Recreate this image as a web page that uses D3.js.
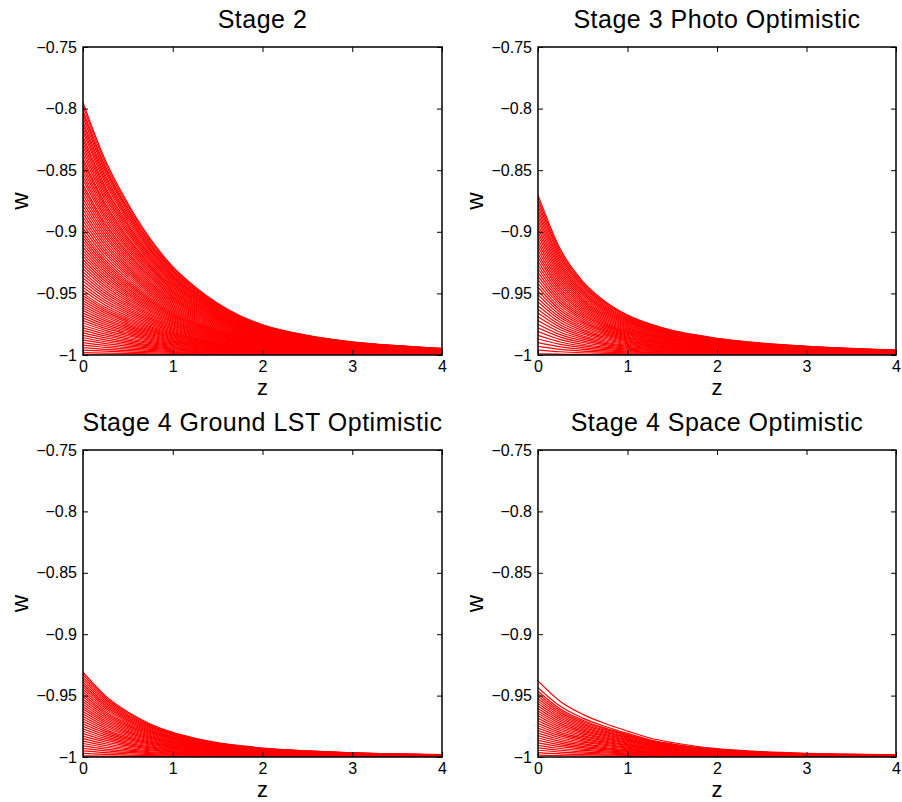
<!DOCTYPE html>
<html>
<head>
<meta charset="utf-8">
<script src="https://cdn.jsdelivr.net/npm/d3@7"></script>
<style>
body{margin:0;background:#fff}
text{font-family:"Liberation Sans",Arial,Helvetica,sans-serif}
</style>
</head>
<body>
<div id="chart"></div>
<script>
var titles=["Stage 2","Stage 3 Photo Optimistic","Stage 4 Ground LST Optimistic","Stage 4 Space Optimistic"];
var zGrid=[0,0.25,0.5,0.75,1,1.25,1.5,1.75,2,2.5,3,3.5,4];
var xTicks=[0,1,2,3,4];
var yTicks=[-1,-0.95,-0.9,-0.85,-0.8,-0.75];

var envStage2=[-0.795,-0.8422,-0.877,-0.9057,-0.9283,-0.9447,-0.958,-0.9682,-0.9754,-0.984,-0.9893,-0.9924,-0.9947];
var envPhoto=[-0.870,-0.9142,-0.9402,-0.9565,-0.9675,-0.9747,-0.9799,-0.9835,-0.9864,-0.9903,-0.9929,-0.9947,-0.996];
var envGround=[-0.931,-0.9503,-0.9634,-0.9731,-0.980,-0.9848,-0.9883,-0.9908,-0.9927,-0.995,-0.9966,-0.9975,-0.9981];
var envSpace=[-0.937,-0.954,-0.9647,-0.9723,-0.9786,-0.9843,-0.988,-0.9909,-0.9931,-0.9955,-0.9969,-0.9977,-0.9983];

// w at z=0 of every curve drawn in each panel
var startStage2=[-0.795,-0.798,-0.8015,-0.804,-0.807,-0.8105,-0.813,-0.816,-0.819,-0.8225,-0.825,-0.828,-0.831,-0.834,-0.837,-0.8405,-0.843,-0.846,-0.849,-0.852,-0.855,-0.858,-0.8615,-0.864,-0.867,-0.870,-0.873,-0.876,-0.879,-0.882,-0.885,-0.888,-0.891,-0.894,-0.897,-0.900,-0.9025,-0.905,-0.9075,-0.910,-0.9125,-0.915,-0.9175,-0.920,-0.9225,-0.925,-0.9275,-0.930,-0.9325,-0.935,-0.9375,-0.940,-0.9425,-0.945,-0.9475,-0.950,-0.952,-0.954,-0.956,-0.958,-0.960,-0.962,-0.964,-0.966,-0.968,-0.970,-0.972,-0.974,-0.976,-0.978,-0.980,-0.982,-0.984,-0.986,-0.988,-0.990,-0.992,-0.994,-0.996,-0.998,-1.000];
var startPhoto=[-0.870,-0.873,-0.876,-0.879,-0.882,-0.885,-0.888,-0.891,-0.894,-0.897,-0.900,-0.903,-0.906,-0.909,-0.912,-0.915,-0.918,-0.921,-0.924,-0.927,-0.930,-0.933,-0.936,-0.939,-0.942,-0.945,-0.948,-0.951,-0.954,-0.957,-0.960,-0.963,-0.966,-0.969,-0.972,-0.975,-0.978,-0.981,-0.984,-0.987,-0.990,-0.993,-0.996,-0.999];
var startGround=[-0.931,-0.933,-0.935,-0.937,-0.939,-0.941,-0.943,-0.945,-0.947,-0.949,-0.951,-0.953,-0.955,-0.957,-0.959,-0.961,-0.963,-0.965,-0.967,-0.969,-0.971,-0.973,-0.975,-0.977,-0.979,-0.981,-0.983,-0.985,-0.987,-0.989,-0.991,-0.993,-0.995,-0.997,-0.999];
var startSpace=[-0.938,-0.9435,-0.9465,-0.9485,-0.9505,-0.9525,-0.9545,-0.9565,-0.9585,-0.9605,-0.9625,-0.9645,-0.9665,-0.9685,-0.9705,-0.9725,-0.9745,-0.9765,-0.9785,-0.9805,-0.9825,-0.9845,-0.9865,-0.9885,-0.9905,-0.9925,-0.9945,-0.9965,-0.9985];

var envs=[envStage2,envPhoto,envGround,envSpace];
var starts=[startStage2,startPhoto,startGround,startSpace];

// plot boxes: left, top, right, bottom
var boxes=[[83,47,442,355],[538,47,896,355],[83,450,442,757],[538,450,896,757]];

var svg=d3.select("#chart")
          .append("svg")
          .attr("width",902)
          .attr("height",802)

boxes.forEach(function(b,p){
    var w=b[2]-b[0], h=b[3]-b[1];
    var x=d3.scaleLinear().domain([0,4]).range([0,w]);
    var y=d3.scaleLinear().domain([-1,-0.75]).range([h,0]);
    var g=svg.append("g").attr("transform","translate("+b[0]+","+b[1]+")");

    g.append("clipPath").attr("id","clip"+p)
     .append("rect").attr("width",w).attr("height",h);

    // each curve follows the panel's upper curve, scaled to its own start
    var env=envs[p];
    var curves=starts[p].map(function(s){
        var k=(s+1)/(env[0]+1);
        return zGrid.map(function(z,i){ return [z,-1+(env[i]+1)*k]; });
    });
    var line=d3.line()
               .x(function(d){return x(d[0])})
               .y(function(d){return y(d[1])})
               .curve(d3.curveMonotoneX);
    g.append("g").attr("clip-path","url(#clip"+p+")")
     .selectAll("path")
     .data(curves)
     .enter()
     .append("path")
     .attr("d",line)
     .attr("fill","none")
     .attr("stroke","#ff0000")
     .attr("stroke-width",1.2);

    var xb=g.append("g").attr("transform","translate(0,"+h+")")
            .call(d3.axisBottom(x).tickValues(xTicks).tickSize(-5).tickPadding(6).tickFormat(d3.format("d")));
    var yl=g.append("g")
            .call(d3.axisLeft(y).tickValues(yTicks).tickSize(-5).tickPadding(6).tickFormat(d3.format("~g")));
    g.append("g").call(d3.axisTop(x).tickValues(xTicks).tickSize(-5).tickFormat(""));
    g.append("g").attr("transform","translate("+w+",0)")
     .call(d3.axisRight(y).tickValues(yTicks).tickSize(-5).tickFormat(""));
    g.selectAll(".domain").remove();
    g.selectAll(".tick line").attr("stroke","#000").attr("stroke-width",1);
    [xb,yl].forEach(function(a){
        a.selectAll("text").attr("font-size",16).attr("fill","#000")
         .style("font-family","'Liberation Sans',Arial,sans-serif");
    });

    g.append("rect")
     .attr("width",w).attr("height",h)
     .attr("fill","none").attr("stroke","#000").attr("stroke-width",1.5);

    g.append("text")
     .text(titles[p])
     .attr("x",w/2).attr("y",-19)
     .attr("text-anchor","middle")
     .attr("font-size",25)
     .attr("letter-spacing",0.5);
    g.append("text")
     .text("z")
     .attr("x",w/2).attr("y",h+40)
     .attr("text-anchor","middle")
     .attr("font-size",22);
    g.append("text")
     .text("w")
     .attr("transform","translate(-55,"+(h/2)+") rotate(-90)")
     .attr("text-anchor","middle")
     .attr("font-size",24);
});
</script>
</body>
</html>
